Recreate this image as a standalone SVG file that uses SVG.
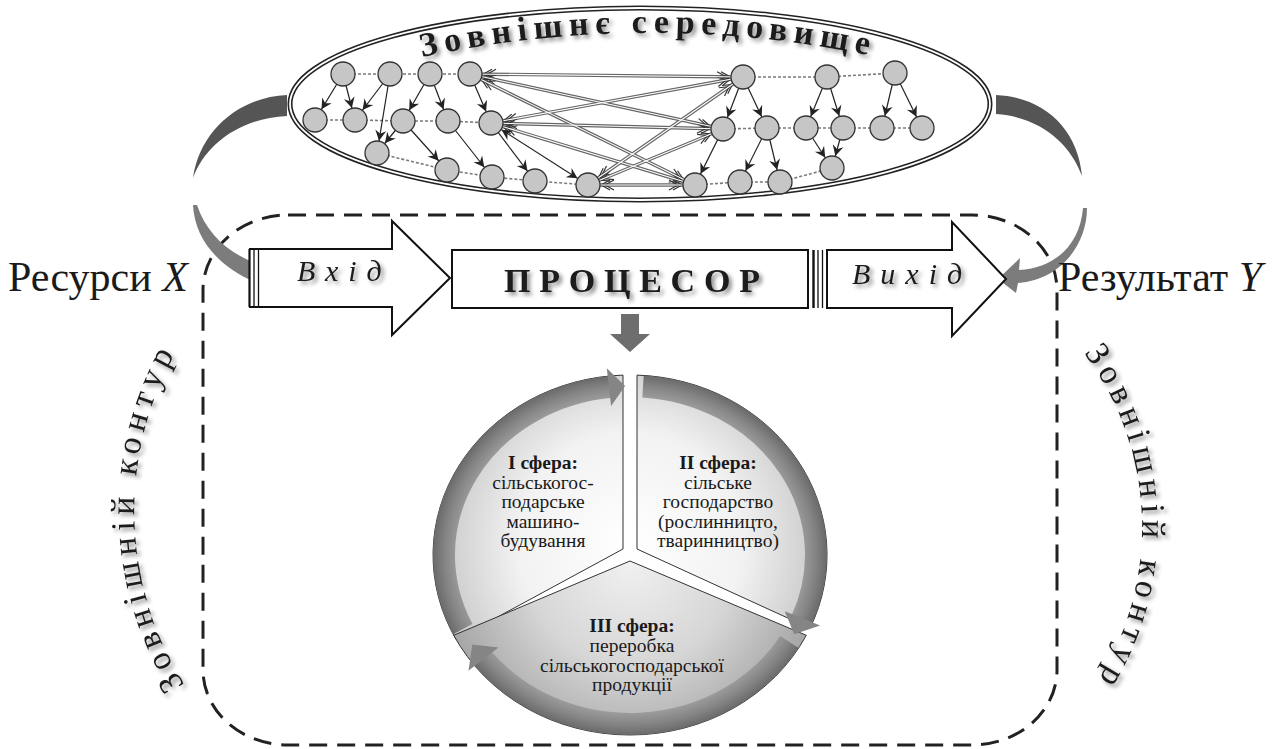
<svg xmlns="http://www.w3.org/2000/svg" width="1279" height="749" viewBox="0 0 1279 749">
<defs>
<style>
.serif{font-family:"Liberation Serif","DejaVu Serif",serif;fill:#1a1a1a}
.dash{stroke:#7a7a7a;stroke-width:1.6;stroke-dasharray:3 2;fill:none}
.sol{stroke:#222;stroke-width:1.2;fill:none;marker-end:url(#st)}
.dbl{stroke:#666;stroke-width:3.4;fill:none;marker-start:url(#ch);marker-end:url(#ch)}
.dblw{stroke:#fff;stroke-width:1.1;fill:none}
.node{fill:#c6c6c6;stroke:#333;stroke-width:1.3}
.blk{fill:#fff;stroke:#111;stroke-width:2}
.sec{stroke:#333;stroke-width:1}
.ring{fill:none;stroke:url(#rg);stroke-width:22}
.head{fill:#858585}
.ct{font-size:19.5px;text-anchor:middle}
</style>
<marker id="st" markerUnits="userSpaceOnUse" markerWidth="30" markerHeight="20" viewBox="-30 -10 30 20" refX="0" refY="0" orient="auto-start-reverse"><path d="M-12.5,0 L-23,-5.5 L-19.5,0 L-23,5.5 Z" fill="#222"/></marker>
<marker id="ch" markerUnits="userSpaceOnUse" markerWidth="30" markerHeight="20" viewBox="-30 -10 30 20" refX="0" refY="0" orient="auto-start-reverse"><path d="M-22,-5 L-13,0 L-22,5 M-26,-5 L-17,0 L-26,5" fill="none" stroke="#333" stroke-width="1.2"/></marker>
<filter id="sh" x="-10%" y="-40%" width="130%" height="190%"><feGaussianBlur in="SourceAlpha" stdDeviation="2"/><feOffset dx="3" dy="3"/><feComponentTransfer><feFuncA type="linear" slope="0.45"/></feComponentTransfer><feMerge><feMergeNode/><feMergeNode in="SourceGraphic"/></feMerge></filter>
<radialGradient id="pg" gradientUnits="userSpaceOnUse" cx="630" cy="545" r="205"><stop offset="0" stop-color="#ffffff"/><stop offset="0.55" stop-color="#f2f2f2"/><stop offset="1" stop-color="#c2c2c2"/></radialGradient>
<radialGradient id="pg3" gradientUnits="userSpaceOnUse" cx="630" cy="565" r="185"><stop offset="0" stop-color="#f0f0f0"/><stop offset="0.55" stop-color="#d6d6d6"/><stop offset="1" stop-color="#a8a8a8"/></radialGradient>
<radialGradient id="rg" gradientUnits="userSpaceOnUse" cx="0" cy="0" r="180" gradientTransform="translate(630 555) scale(1.094 1)"><stop offset="0.86" stop-color="#a2a2a2"/><stop offset="0.94" stop-color="#858585"/><stop offset="1" stop-color="#6a6a6a"/></radialGradient>
<path id="tp" d="M 418 58 A 1085 1085 0 0 1 882 58"/>
<path id="lp" d="M 188 690 A 325 325 0 0 1 188 332"/>
<path id="rp" d="M 1077.6 345 A 289.5 289.5 0 0 1 1077.6 709"/>
</defs>
<rect width="1279" height="749" fill="#fff"/>

<!-- outer dashed contour -->
<g id="contour">
<rect x="203" y="215" width="854" height="530" rx="85" ry="75" fill="none" stroke="#222" stroke-width="3" stroke-dasharray="18 10"/>
<text class="serif" font-size="34" letter-spacing="6" filter="url(#sh)"><textPath href="#lp" startOffset="6">Зовнішній контур</textPath></text>
<text class="serif" font-size="34" letter-spacing="6" filter="url(#sh)"><textPath href="#rp" startOffset="10">Зовнішній контур</textPath></text>
</g>

<!-- environment ellipse -->
<g id="environment">
<ellipse cx="640" cy="104" rx="350" ry="96" fill="#fff" stroke="#222" stroke-width="5"/>
<ellipse cx="640" cy="104" rx="350" ry="96" fill="none" stroke="#fff" stroke-width="1.8"/>
<text class="serif" font-size="34" font-weight="bold" letter-spacing="6.5" filter="url(#sh)"><textPath href="#tp" startOffset="4">Зовнішнє середовище</textPath></text>
</g>

<!-- network connectors -->
<g id="connectors">
<polyline class="dash" points="343,74 390,74 430,74 470,74"/>
<polyline class="dash" points="315,120 355,120 403,121 448,121 491,123"/>
<polyline class="dash" points="377,153 447,170 492,177 535,181 588,185"/>
<polyline class="dash" points="743,77 827,77 895,73"/>
<polyline class="dash" points="723,129 767,128 806,128 843,128 882,128 922,128"/>
<polyline class="dash" points="695,185 740,182 780,182 832,168"/>

<line class="dbl" x1="470" y1="74" x2="743" y2="77"/>
<line class="dbl" x1="470" y1="74" x2="723" y2="129"/>
<line class="dbl" x1="470" y1="74" x2="695" y2="185"/>
<line class="dbl" x1="491" y1="123" x2="743" y2="77"/>
<line class="dbl" x1="491" y1="123" x2="723" y2="129"/>
<line class="dbl" x1="491" y1="123" x2="695" y2="185"/>
<line class="dbl" x1="588" y1="185" x2="743" y2="77"/>
<line class="dbl" x1="588" y1="185" x2="723" y2="129"/>
<line class="dbl" x1="588" y1="185" x2="695" y2="185"/>
<line class="dblw" x1="470" y1="74" x2="743" y2="77"/>
<line class="dblw" x1="470" y1="74" x2="723" y2="129"/>
<line class="dblw" x1="470" y1="74" x2="695" y2="185"/>
<line class="dblw" x1="491" y1="123" x2="743" y2="77"/>
<line class="dblw" x1="491" y1="123" x2="723" y2="129"/>
<line class="dblw" x1="491" y1="123" x2="695" y2="185"/>
<line class="dblw" x1="588" y1="185" x2="743" y2="77"/>
<line class="dblw" x1="588" y1="185" x2="723" y2="129"/>
<line class="dblw" x1="588" y1="185" x2="695" y2="185"/>

<line class="sol" x1="343" y1="74" x2="315" y2="120"/>
<line class="sol" x1="343" y1="74" x2="355" y2="120"/>
<line class="sol" x1="390" y1="74" x2="355" y2="120"/>
<line class="sol" x1="390" y1="74" x2="377" y2="153"/>
<line class="sol" x1="430" y1="74" x2="403" y2="121"/>
<line class="sol" x1="430" y1="74" x2="448" y2="121"/>
<line class="sol" x1="470" y1="74" x2="491" y2="123"/>
<line class="sol" x1="403" y1="121" x2="377" y2="153"/>
<line class="sol" x1="403" y1="121" x2="447" y2="170"/>
<line class="sol" x1="448" y1="121" x2="492" y2="177"/>
<line class="sol" x1="491" y1="123" x2="535" y2="181"/>
<line class="sol" x1="491" y1="123" x2="588" y2="185" marker-start="url(#st)"/>
<line class="sol" x1="743" y1="77" x2="723" y2="129"/>
<line class="sol" x1="743" y1="77" x2="767" y2="128"/>
<line class="sol" x1="827" y1="77" x2="806" y2="128"/>
<line class="sol" x1="827" y1="77" x2="843" y2="128"/>
<line class="sol" x1="895" y1="73" x2="882" y2="128"/>
<line class="sol" x1="895" y1="73" x2="922" y2="128"/>
<line class="sol" x1="723" y1="129" x2="695" y2="185"/>
<line class="sol" x1="767" y1="128" x2="740" y2="182"/>
<line class="sol" x1="767" y1="128" x2="780" y2="182"/>
<line class="sol" x1="806" y1="128" x2="832" y2="168"/>
<line class="sol" x1="843" y1="128" x2="832" y2="168"/>
</g>

<!-- network nodes -->
<g id="network-nodes">
<circle id="a1" class="node" cx="343" cy="74" r="12"/>
<circle id="a2" class="node" cx="390" cy="74" r="12"/>
<circle id="a3" class="node" cx="430" cy="74" r="12"/>
<circle id="a4" class="node" cx="470" cy="74" r="12"/>
<circle id="b1" class="node" cx="315" cy="120" r="12"/>
<circle id="b2" class="node" cx="355" cy="120" r="12"/>
<circle id="b3" class="node" cx="403" cy="121" r="12"/>
<circle id="b4" class="node" cx="448" cy="121" r="12"/>
<circle id="b5" class="node" cx="491" cy="123" r="12"/>
<circle id="c1" class="node" cx="377" cy="153" r="12"/>
<circle id="d1" class="node" cx="447" cy="170" r="12"/>
<circle id="d2" class="node" cx="492" cy="177" r="12"/>
<circle id="d3" class="node" cx="535" cy="181" r="12"/>
<circle id="d4" class="node" cx="588" cy="185" r="12"/>
<circle id="e1" class="node" cx="743" cy="77" r="12"/>
<circle id="e2" class="node" cx="827" cy="77" r="12"/>
<circle id="e3" class="node" cx="895" cy="73" r="12"/>
<circle id="f1" class="node" cx="723" cy="129" r="12"/>
<circle id="f2" class="node" cx="767" cy="128" r="12"/>
<circle id="f3" class="node" cx="806" cy="128" r="12"/>
<circle id="f4" class="node" cx="843" cy="128" r="12"/>
<circle id="f5" class="node" cx="882" cy="128" r="12"/>
<circle id="f6" class="node" cx="922" cy="128" r="12"/>
<circle id="g1" class="node" cx="832" cy="168" r="12"/>
<circle id="h1" class="node" cx="695" cy="185" r="12"/>
<circle id="h2" class="node" cx="740" cy="182" r="12"/>
<circle id="h3" class="node" cx="780" cy="182" r="12"/>
</g>

<!-- gray feedback arrows -->
<g id="feedback-arrows">
<path d="M 287 95 C 240 97 200 130 193 178 C 205 145 240 118 287 116 Z" fill="#555"/>
<path d="M 193 205 C 195 242 222 270 262 285 L 264 295 L 287 274 L 260 254 L 262 265 C 231 256 207 235 197 205 Z" fill="#7c7c7c"/>
<path d="M 996 95 C 1045 97 1078 130 1082 176 C 1070 143 1040 117 996 114 Z" fill="#555"/>
<path d="M 1083 208 C 1080 245 1055 268 1019 270 L 1020 258 L 998 279 L 1016 293 L 1018 283 C 1060 280 1087 245 1087 208 Z" fill="#7c7c7c"/>
</g>

<!-- labels -->
<g id="resources">
<text class="serif" x="8" y="291" font-size="42">Ресурси <tspan font-style="italic">X</tspan></text>
</g>
<g id="result">
<text class="serif" x="1058" y="291" font-size="42">Результат <tspan font-style="italic">Y</tspan></text>
</g>

<!-- input arrow -->
<g id="input">
<path class="blk" d="M 249 249 L 392 249 L 392 221 L 450 278 L 392 335 L 392 307 L 249 307"/>
<line x1="249.5" y1="249" x2="249.5" y2="307" stroke="#111" stroke-width="2.2"/>
<line x1="254" y1="249" x2="254" y2="307" stroke="#111" stroke-width="1.3"/>
<line x1="258.5" y1="249" x2="258.5" y2="307" stroke="#111" stroke-width="1.3"/>
<text class="serif" x="297" y="281" font-size="30" font-style="italic" letter-spacing="10" filter="url(#sh)">Вхід</text>
</g>

<!-- processor -->
<g id="processor">
<rect class="blk" x="452" y="250" width="356" height="58" stroke-width="2.2"/>
<text class="serif" x="504" y="292" font-size="34" font-weight="bold" textLength="256" lengthAdjust="spacing" filter="url(#sh)">ПРОЦЕСОР</text>
<path d="M 621 314 L 639 314 L 639 334 L 650 334 L 630 352 L 610 334 L 621 334 Z" fill="#6e6e6e"/>
</g>

<!-- output arrow -->
<g id="output">
<line x1="813.5" y1="250" x2="813.5" y2="308" stroke="#111" stroke-width="2.4"/>
<line x1="818" y1="250" x2="818" y2="308" stroke="#111" stroke-width="1.3"/>
<line x1="822.5" y1="250" x2="822.5" y2="308" stroke="#111" stroke-width="1.3"/>
<path class="blk" d="M 827 250 L 952 250 L 952 222 L 1006 279 L 952 336 L 952 308 L 827 308 Z"/>
<text class="serif" x="852" y="284" font-size="30" font-style="italic" letter-spacing="10" filter="url(#sh)">Вихід</text>
</g>

<!-- three spheres -->
<g id="sphere-1">
<path class="sec" d="M 623 549 L 456.1 639.5 A 197 180 0 0 1 623 375.1 Z" fill="url(#pg)"/>
</g>
<g id="sphere-2">
<path class="sec" d="M 637 549 L 637 375.1 A 197 180 0 0 1 810 628.2 Z" fill="url(#pg)"/>
</g>
<g id="sphere-3">
<path class="sec" d="M 630 561 L 806.3 635.3 A 197 180 0 0 1 453.7 635.3 Z" fill="url(#pg3)"/>
</g>

<g id="cycle-arrows">
<path class="ring" d="M 462.8 629.1 A 186 169 0 0 1 610.6 386.9"/>
<polygon class="head" points="606.8,368.2 625.1,386.1 611.1,406"/>
<path class="ring" d="M 643 386.4 A 186 169 0 0 1 801.2 621"/>
<polygon class="head" points="820.1,625.4 794.2,634.3 784.8,611.2"/>
<path class="ring" d="M 789.4 642 A 186 169 0 0 1 481.5 656.7"/>
<polygon class="head" points="468.5,670.8 472.3,644.6 498.4,647.4"/>
</g>

<g id="sphere-texts">
<text class="serif ct" x="543" y="469" font-weight="bold">I сфера:</text>
<text class="serif ct" x="543" y="489">сільськогос-</text>
<text class="serif ct" x="543" y="508">подарське</text>
<text class="serif ct" x="543" y="528">машино-</text>
<text class="serif ct" x="543" y="547">будування</text>
<text class="serif ct" x="718" y="469" font-weight="bold">II сфера:</text>
<text class="serif ct" x="718" y="489">сільське</text>
<text class="serif ct" x="718" y="508">господарство</text>
<text class="serif ct" x="718" y="528">(рослинницто,</text>
<text class="serif ct" x="718" y="547">тваринництво)</text>
<text class="serif ct" x="632" y="632" font-weight="bold">III сфера:</text>
<text class="serif ct" x="632" y="652">переробка</text>
<text class="serif ct" x="632" y="672">сільськогосподарської</text>
<text class="serif ct" x="632" y="691">продукції</text>
</g>
</svg>
